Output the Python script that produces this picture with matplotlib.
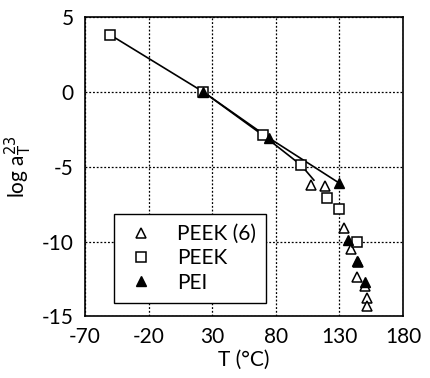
import matplotlib
matplotlib.use("Agg")
from matplotlib import pyplot as plt

# PEEK (6) - open triangles
peek6_T = [108, 119, 134, 139, 145, 144, 150, 152, 152]
peek6_log = [-6.2, -6.3, -9.1, -10.5, -11.4, -12.4, -13.0, -13.8, -14.3]

# PEEK - open squares
peek_T = [-50, 23, 70, 100, 120, 130, 144]
peek_log = [3.8, 0.0, -2.9, -4.9, -7.1, -7.8, -10.0]

# PEI - filled triangles
pei_T = [23, 75, 130, 137, 144, 150]
pei_log = [0.0, -3.1, -6.1, -9.9, -11.3, -12.7]

# fit lines
peek_fit_T = [-50, 23, 70, 100, 110]
peek_fit_log = [3.8, 0.0, -2.9, -4.9, -5.9]
pei_fit_T = [23, 75, 130]
pei_fit_log = [0.0, -3.1, -6.1]

xticks = [-70, -20, 30, 80, 130, 180]
yticks = [-15, -10, -5, 0, 5]

plt.rcParams['font.family'] = ['Lato', 'DejaVu Sans']
plt.rcParams['axes.unicode_minus'] = False
fig = plt.figure(figsize=(4.31, 3.78), dpi=100)
ax = fig.add_axes([0.197, 0.163, 0.738, 0.792])

ax.plot(peek_fit_T, peek_fit_log, color='black', lw=1.2, zorder=2)
ax.plot(pei_fit_T, pei_fit_log, color='black', lw=1.2, zorder=2)

ax.plot(peek6_T, peek6_log, linestyle='none', marker='^', markersize=7.5,
        markerfacecolor='white', markeredgecolor='black', markeredgewidth=1.1,
        label='PEEK (6)', zorder=3)
ax.plot(peek_T, peek_log, linestyle='none', marker='s', markersize=7.5,
        markerfacecolor='white', markeredgecolor='black', markeredgewidth=1.1,
        label='PEEK', zorder=3)
ax.plot(pei_T, pei_log, linestyle='none', marker='^', markersize=7.5,
        markerfacecolor='black', markeredgecolor='black',
        label='PEI', zorder=4)

ax.set_xlim(-70, 180)
ax.set_ylim(-15, 5)
ax.set_xticks(xticks)
ax.set_yticks(yticks)
ax.tick_params(length=0, labelsize=15, pad=8)
ax.grid(True, linestyle=(0, (1.5, 1.5)), color='black', lw=0.9)
for s in ax.spines.values():
    s.set_linewidth(1.2)

ax.set_xlabel('T (°C)', fontsize=15, labelpad=2)
ax.set_ylabel(r'log a$_\mathrm{T}^{23}$', fontsize=15, labelpad=6)

leg = ax.legend(loc='lower left', fontsize=15, frameon=True, fancybox=False,
                edgecolor='black', framealpha=1, handlelength=1.6,
                handletextpad=0.9, borderpad=0.5, labelspacing=0.2,
                bbox_to_anchor=(0.06, 0.01))
leg.get_frame().set_linewidth(1.0)

fig.savefig('out.png', dpi=100)
